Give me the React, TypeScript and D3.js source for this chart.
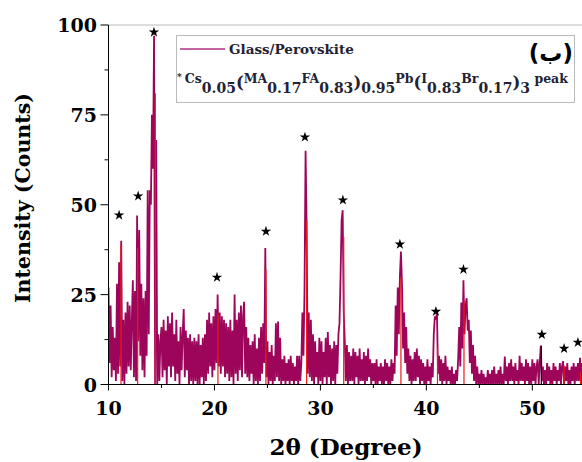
import React from "react";
import * as d3 from "d3";

// XRD intensity, sampled every 0.1 degree from 10.0
const intensity: number[] = [
  27, 6, 22, 2, 16, 4, 13, 1, 28, 3,
  34, 5, 40, 1, 18, 0, 20, 3, 23, 5,
  22, 4, 18, 29, 2, 26, 1, 47, 12, 43,
  8, 28, 4, 24, 2, 26, 8, 54, 14, 54,
  50, 75, 60, 97, 0, 68, 0, 14, 1, 12,
  16, 2, 18, 4, 15, 0, 19, 5, 17, 2,
  20, 5, 14, 1, 18, 3, 12, 0, 16, 4,
  14, 21, 2, 15, 4, 13, 0, 14, 1, 12,
  0, 13, 1, 12, 0, 14, 0, 11, 2, 13,
  0, 14, 1, 18, 3, 20, 5, 17, 2, 19,
  4, 21, 6, 25, 5, 20, 3, 19, 5, 18,
  2, 17, 3, 16, 1, 18, 2, 15, 0, 25,
  3, 18, 1, 20, 4, 22, 2, 19, 23, 3,
  16, 2, 13, 1, 11, 3, 12, 0, 14, 1,
  10, 0, 13, 1, 16, 3, 17, 6, 38, 2,
  12, 0, 9, 1, 11, 0, 8, 1, 17, 2,
  17.5, 1, 13, 0, 7, 1, 8, 0, 6, 1,
  7, 0, 8, 1, 6, 0, 5, 1, 8, 0,
  8, 1, 6, 20, 8, 26, 65, 44, 3, 20,
  2, 18, 1, 14, 0, 12, 2, 9, 0, 13,
  1, 12, 0, 9, 2, 13, 0, 14.6, 2, 11,
  0, 10, 1, 12, 0, 11, 3, 14, 17, 30,
  45.7, 48.5, 20, 12, 1, 11, 0, 9, 1, 8,
  1, 10, 0, 9, 2, 8, 0, 10, 1, 7,
  1, 9, 0, 8, 1, 10, 2, 7, 0, 6,
  1, 6, 0, 7, 0, 5, 1, 6, 0, 5,
  0, 7, 1, 6, 0, 5, 0, 7, 1, 6,
  3, 22, 8, 27, 14, 30, 37, 28, 10, 20,
  6, 16, 3, 10, 1, 8, 0, 7, 1, 9,
  1, 10, 2, 8, 0, 7, 1, 6, 0, 5,
  0, 7, 1, 5, 0, 6, 2, 14, 19, 18,
  20, 3, 8, 1, 7, 0, 6, 1, 8, 0,
  5, 1, 4, 0, 5, 0, 3, 0, 4, 1,
  7, 16, 5, 22.8, 10, 29, 14, 22, 24, 15,
  18, 6, 15, 3, 11, 1, 8, 0, 5, 0,
  3, 0, 4, 0, 3, 0, 2, 0, 4, 0,
  3, 0, 4, 0, 5, 0, 3, 0, 4, 0,
  5, 0, 3, 0, 7.8, 1, 5, 0, 6, 1,
  7, 1, 5, 0, 6, 1, 4, 0, 8, 1,
  6, 1, 5, 0, 7, 1, 6, 0, 5, 0,
  7, 1, 6, 0, 5, 7, 0, 6, 10.8, 1,
  5, 0, 4, 0, 6, 1, 5, 0, 4, 0,
  6, 1, 5, 0, 4, 1, 6, 0, 5, 6.5,
  0, 5, 1, 6, 0, 4, 0, 5, 1, 6,
  0, 5, 1, 6, 1, 7.4, 0, 6, 1, 5,
];

// reference sticks (red) and one black stick
const refAngles = [11.18, 12.75, 14.42, 20.33, 24.86, 28.7, 32.2, 37.6, 41.05, 43.55, 53.0, 54.55];
const refHeights = [38.7, 37.9, 81, 19.8, 32, 45.7, 41, 29.8, 10.3, 23.4, 5.3, 3.4];
const blackAngles = [50.85];
const blackHeights = [10.8];

// peak markers
const starAngles = [11.0, 12.8, 14.29, 20.24, 24.86, 28.54, 32.12, 37.5, 40.9, 43.5, 50.9, 53.0, 54.3];
const starLevels = [47.1, 52.4, 98.0, 29.8, 42.6, 68.8, 51.3, 39.0, 20.3, 32.0, 13.9, 10.0, 11.7];

const xMajor = [10, 20, 30, 40, 50];
const xMinor = [15, 25, 35, 45, 55];
const yMajor = [0, 25, 50, 75, 100];
const yMinor = [12.5, 37.5, 62.5, 87.5];

const W = 582;
const H = 462;
const SERIF = "'DejaVu Serif', serif";

export default function App() {
  const x = d3.scaleLinear().domain([10, 55]).range([108.5, 585.3]);
  const y = d3.scaleLinear().domain([0, 100]).range([384.5, 25]);
  const angles = intensity.map((_, i) => 10 + i * 0.1);
  const line = d3
    .line<number>()
    .x((_, i) => x(angles[i]))
    .y((d) => y(d));
  const star = d3.symbol().type(d3.symbolStar).size(34)() as string;

  const sub = (t: string) => (
    <tspan y={93} fontSize={14}>{t}</tspan>
  );
  const main = (t: string) => (
    <tspan y={83} fontSize={12.5}>{t}</tspan>
  );
  const par = (t: string) => (
    <tspan y={88} fontSize={16.5}>{t}</tspan>
  );

  return (
    <div style={{ position: "fixed", left: 0, top: 0 }}>
      <svg width={W} height={H} style={{ display: "block", background: "#fff" }}>
        <defs>
          <clipPath id="plot">
            <rect x={108.5} y={20} width={480} height={364.5} />
          </clipPath>
        </defs>
        {/* frame top */}
        <line x1={108.5} x2={W} y1={y(100)} y2={y(100)} stroke="#bbb" strokeWidth={1} />
        <g clipPath="url(#plot)">
          <path d={line(intensity) || ""} fill="none" stroke="#9c0559" strokeWidth={1.8} strokeLinejoin="bevel" />
          {refAngles.map((a, i) => (
            <line key={"r" + i} x1={x(a)} x2={x(a)} y1={y(0)} y2={y(refHeights[i])} stroke="#f01818" strokeWidth={1.2} />
          ))}
          {blackAngles.map((a, i) => (
            <line key={"b" + i} x1={x(a)} x2={x(a)} y1={y(0)} y2={y(blackHeights[i])} stroke="#000" strokeWidth={1.2} />
          ))}
        </g>
        {starAngles.map((a, i) => (
          <path key={"s" + i} d={star} transform={`translate(${x(a)},${y(starLevels[i])})`} fill="#000" />
        ))}
        {/* axes */}
        <line x1={108.5} x2={108.5} y1={y(100)} y2={y(0)} stroke="#000" strokeWidth={1} />
        <line x1={108.5} x2={W} y1={y(0)} y2={y(0)} stroke="#000" strokeWidth={1.2} />
        {yMajor.map((v) => (
          <g key={"ym" + v}>
            <line x1={100.5} x2={108.5} y1={y(v)} y2={y(v)} stroke="#000" />
            <text x={97} y={y(v) + 7} textAnchor="end" fontFamily={SERIF} fontWeight="bold" fontSize={19}>{v}</text>
          </g>
        ))}
        {yMinor.map((v) => (
          <line key={"yn" + v} x1={104.5} x2={108.5} y1={y(v)} y2={y(v)} stroke="#000" />
        ))}
        {xMajor.map((v) => (
          <g key={"xm" + v}>
            <line x1={x(v)} x2={x(v)} y1={y(0)} y2={y(0) + 6} stroke="#000" />
            <text x={x(v)} y={415} textAnchor="middle" fontFamily={SERIF} fontWeight="bold" fontSize={19}>{v}</text>
          </g>
        ))}
        {xMinor.map((v) => (
          <line key={"xn" + v} x1={x(v)} x2={x(v)} y1={y(0)} y2={y(0) + 3.5} stroke="#000" />
        ))}
        {/* axis titles */}
        <text transform="translate(30,198) rotate(-90)" textAnchor="middle" fontFamily={SERIF} fontWeight="bold" fontSize={20.5}>Intensity (Counts)</text>
        <text x={346} y={455} textAnchor="middle" fontFamily={SERIF} fontWeight="bold" fontSize={23}>2θ (Degree)</text>
        {/* legend */}
        <rect x={176.5} y={35.5} width={398} height={67} fill="#fff" stroke="#bbb" strokeWidth={1} />
        <line x1={180} x2={225} y1={49} y2={49} stroke="#b03080" strokeWidth={1.5} />
        <text x={229} y={54} fontFamily={SERIF} fontWeight="bold" fontSize={13.5} fill="#222233">Glass/Perovskite</text>
        <text x={573} y={61} textAnchor="end" fontFamily="'DejaVu Sans', sans-serif" fontWeight="bold" fontSize={23} fill="#000">(ب)</text>
        <text x={177} fontFamily={SERIF} fontWeight="bold" fill="#222233">
          <tspan y={80} fontSize={9}>* </tspan>
          {main("Cs")}
          {sub("0.05")}
          {par("(")}
          {main("MA")}
          {sub("0.17")}
          {main("FA")}
          {sub("0.83")}
          {par(")")}
          {sub("0.95")}
          {main("Pb")}
          {par("(")}
          {main("I")}
          {sub("0.83")}
          {main("Br")}
          {sub("0.17")}
          {par(")")}
          {sub("3")}
          {main(" peak")}
        </text>
      </svg>
    </div>
  );
}
